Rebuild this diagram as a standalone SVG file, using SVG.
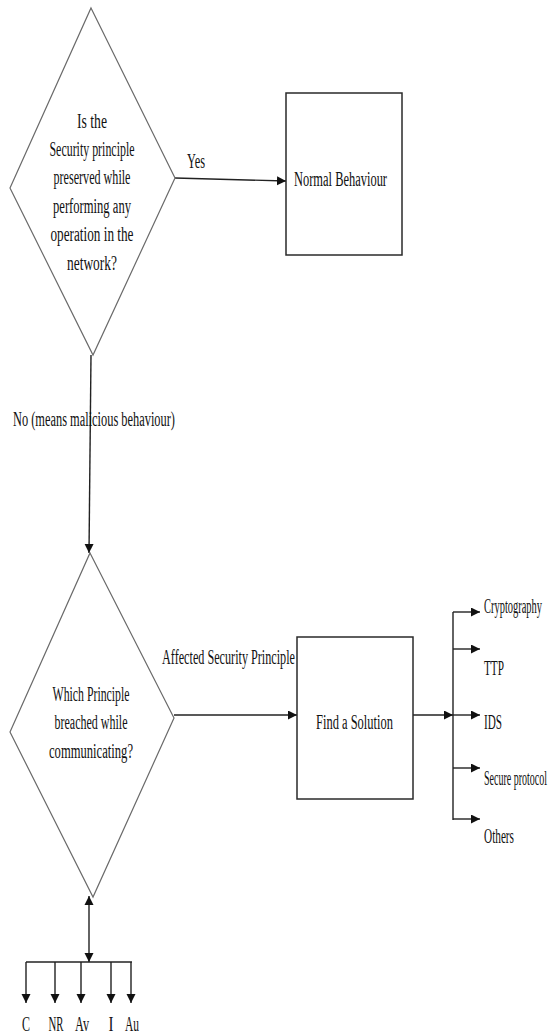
<svg xmlns="http://www.w3.org/2000/svg" width="554" height="1036" viewBox="0 0 554 1036">
<style>
.t{font-family:"Liberation Serif","Times New Roman",serif;font-size:20px;fill:#111}
.m{text-anchor:middle}
.dia{fill:#fff;stroke:#6a6a6a;stroke-width:1.2}
.box{fill:#fff;stroke:#2a2a2a;stroke-width:1.5}
.c{fill:none;stroke:#222;stroke-width:1.4}
</style>
<defs>
<marker id="ah" markerUnits="userSpaceOnUse" markerWidth="11" markerHeight="10" refX="9" refY="4.5" orient="auto">
<path d="M0,0 L9,4.5 L0,9 z" fill="#111"/>
</marker>
<marker id="as" markerUnits="userSpaceOnUse" markerWidth="11" markerHeight="10" refX="0" refY="4.5" orient="auto">
<path d="M9,0 L0,4.5 L9,9 z" fill="#111"/>
</marker>
</defs>
<rect width="554" height="1036" fill="#fff"/>

<g id="connectors">
<line class="c" x1="175" y1="178" x2="286" y2="181" marker-end="url(#ah)"/>
<line class="c" x1="91" y1="355" x2="89" y2="553" marker-end="url(#ah)"/>
<line class="c" x1="174" y1="715" x2="297" y2="715" marker-end="url(#ah)"/>
<line class="c" x1="413" y1="715" x2="453" y2="715" marker-end="url(#ah)"/>
<line class="c" x1="453" y1="612" x2="453" y2="820"/>
<line class="c" x1="453" y1="612" x2="480" y2="612" marker-end="url(#ah)"/>
<line class="c" x1="453" y1="649" x2="480" y2="649" marker-end="url(#ah)"/>
<line class="c" x1="453" y1="715" x2="480" y2="715" marker-end="url(#ah)"/>
<line class="c" x1="453" y1="768" x2="480" y2="768" marker-end="url(#ah)"/>
<line class="c" x1="453" y1="819" x2="480" y2="819" marker-end="url(#ah)"/>
<line class="c" x1="89" y1="896" x2="89" y2="962" marker-start="url(#as)" marker-end="url(#ah)"/>
<line class="c" x1="26" y1="962" x2="132" y2="962"/>
<line class="c" x1="26" y1="962" x2="26" y2="1003" marker-end="url(#ah)"/>
<line class="c" x1="55" y1="962" x2="55" y2="1003" marker-end="url(#ah)"/>
<line class="c" x1="81" y1="962" x2="81" y2="1003" marker-end="url(#ah)"/>
<line class="c" x1="111" y1="962" x2="111" y2="1003" marker-end="url(#ah)"/>
<line class="c" x1="131" y1="962" x2="131" y2="1003" marker-end="url(#ah)"/>
<text class="t" x="187" y="168" textLength="18" lengthAdjust="spacingAndGlyphs">Yes</text>
<text class="t" x="13" y="426" textLength="162" lengthAdjust="spacingAndGlyphs">No (means malicious behaviour)</text>
<text class="t" x="162" y="664" textLength="133" lengthAdjust="spacingAndGlyphs">Affected Security Principle</text>
</g>

<g id="decision1">
<polygon class="dia" points="91,8 175,178 93,355 10,188"/>
<text class="t m" x="92" y="128" textLength="30" lengthAdjust="spacingAndGlyphs">Is the</text>
<text class="t m" x="92" y="156" textLength="85" lengthAdjust="spacingAndGlyphs">Security principle</text>
<text class="t m" x="92" y="184" textLength="77" lengthAdjust="spacingAndGlyphs">preserved while</text>
<text class="t m" x="92" y="213" textLength="78" lengthAdjust="spacingAndGlyphs">performing any</text>
<text class="t m" x="92" y="241" textLength="83" lengthAdjust="spacingAndGlyphs">operation in the</text>
<text class="t m" x="92" y="270" textLength="50" lengthAdjust="spacingAndGlyphs">network?</text>
</g>

<g id="normal">
<rect class="box" x="286" y="93" width="116" height="162"/>
<text class="t" x="294" y="186" textLength="93" lengthAdjust="spacingAndGlyphs">Normal Behaviour</text>
</g>

<g id="decision2">
<polygon class="dia" points="90,553 174,718 93,897 10,732"/>
<text class="t m" x="91" y="701" textLength="77" lengthAdjust="spacingAndGlyphs">Which Principle</text>
<text class="t m" x="91" y="729" textLength="73" lengthAdjust="spacingAndGlyphs">breached while</text>
<text class="t m" x="91" y="758" textLength="84" lengthAdjust="spacingAndGlyphs">communicating?</text>
</g>

<g id="solution">
<rect class="box" x="297" y="637" width="116" height="162"/>
<text class="t" x="316" y="729" textLength="77" lengthAdjust="spacingAndGlyphs">Find a Solution</text>
</g>

<g id="solutions">
<text class="t" x="484" y="613" textLength="58" lengthAdjust="spacingAndGlyphs">Cryptography</text>
<text class="t" x="484" y="675" textLength="20" lengthAdjust="spacingAndGlyphs">TTP</text>
<text class="t" x="484" y="729" textLength="18" lengthAdjust="spacingAndGlyphs">IDS</text>
<text class="t" x="484" y="785" textLength="63" lengthAdjust="spacingAndGlyphs">Secure protocol</text>
<text class="t" x="484" y="843" textLength="30" lengthAdjust="spacingAndGlyphs">Others</text>
</g>

<g id="principles">
<text class="t m" x="26" y="1031" textLength="8" lengthAdjust="spacingAndGlyphs">C</text>
<text class="t m" x="56" y="1031" textLength="15" lengthAdjust="spacingAndGlyphs">NR</text>
<text class="t m" x="82" y="1031" textLength="14" lengthAdjust="spacingAndGlyphs">Av</text>
<text class="t m" x="111" y="1031" textLength="5" lengthAdjust="spacingAndGlyphs">I</text>
<text class="t m" x="132" y="1031" textLength="14" lengthAdjust="spacingAndGlyphs">Au</text>
</g>
</svg>
